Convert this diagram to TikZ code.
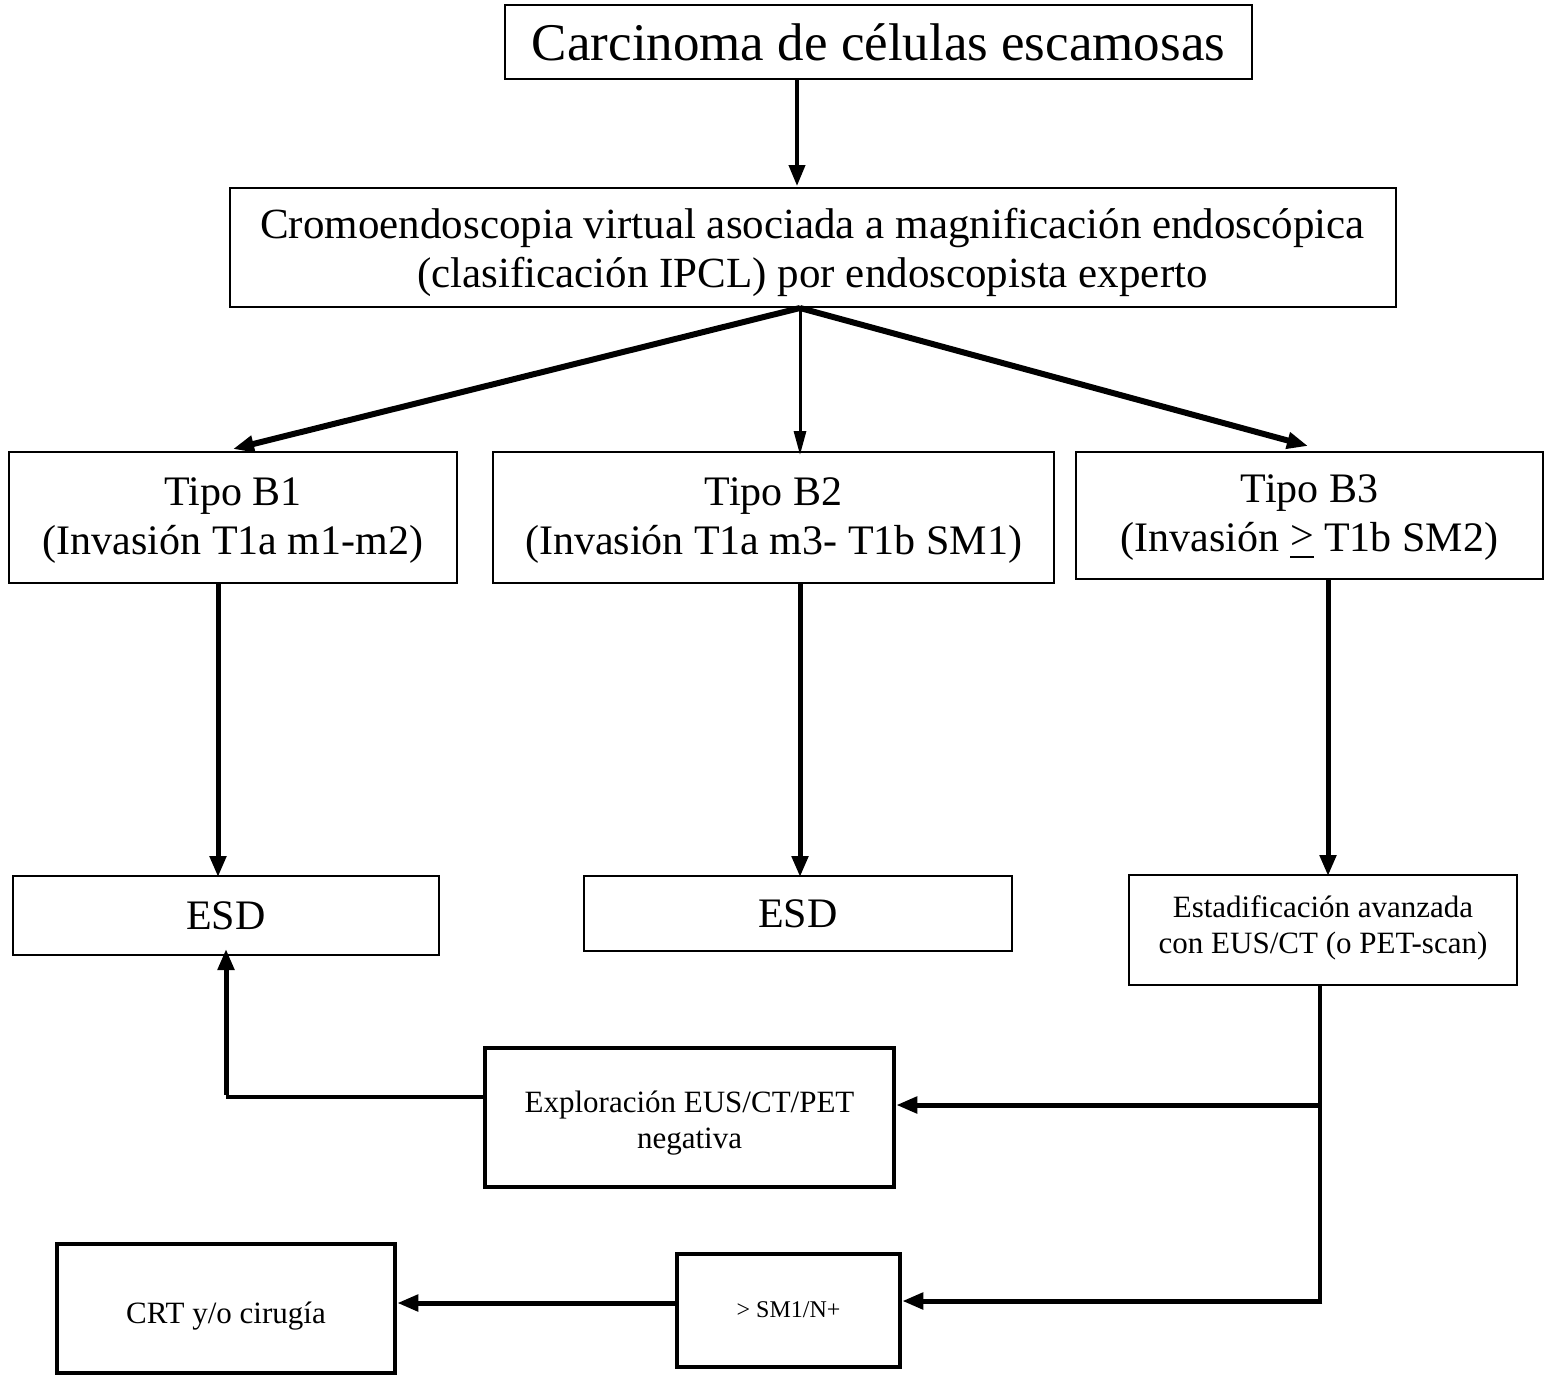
\documentclass[tikz,border=0pt]{standalone}
\usepackage{fontspec}
\setmainfont{Liberation Serif}
\usetikzlibrary{arrows.meta}
\newcommand{\fs}[1]{\fontsize{#1}{1.16\dimexpr #1pt\relax}\selectfont}
\newcommand{\dn}[2]{\raisebox{-#1}[\height][\depth]{\begin{tabular}{@{}c@{}}#2\end{tabular}}}
\newcommand{\gebar}{\setbox0\hbox{>}\rlap{\raisebox{0.03em}{>}}\rule[-0.17em]{\wd0}{0.05em}}
\begin{document}
\begin{tikzpicture}[x=1pt,y=-1pt,
  box/.style={draw, line width=2pt, inner sep=0pt, align=center, anchor=center},
  thickbox/.style={draw, line width=4.5pt, inner sep=0pt, align=center, anchor=center},
  arr/.style={line width=#1, -{Triangle[length=21pt,width=16pt]}},
  arr/.default=4.5pt,
  ln/.style={line width=4.5pt}
]
\useasboundingbox (0,0) rectangle (1544,1378);
\fill[white] (0,0) rectangle (1544,1378);

% nodes
\node[box, minimum width=747pt, minimum height=74pt, font=\fs{53}] (top) at (878.5,42) {Carcinoma de células escamosas};
\node[box, minimum width=1166pt, minimum height=119pt, font=\fs{43}] (crom) at (812.5,247.5)
  {\dn{5.5pt}{Cromoendoscopia virtual asociada a magnificación endoscópica\\(clasificación IPCL) por endoscopista experto}};
\node[box, minimum width=448pt, minimum height=131pt, font=\fs{42}] (b1) at (233,517.5) {\dn{2.5pt}{Tipo B1\\(Invasión T1a m1-m2)}};
\node[box, minimum width=561pt, minimum height=131pt, font=\fs{42}] (b2) at (773.5,517.5) {\dn{2.5pt}{Tipo B2\\(Invasión T1a m3- T1b SM1)}};
\node[box, minimum width=467pt, minimum height=127pt, font=\fs{42}] (b3) at (1309.5,515.5) {\dn{1.5pt}{Tipo B3\\(Invasión \gebar\ T1b SM2)}};
\node[box, minimum width=426pt, minimum height=79pt, font=\fs{42}] (esd1) at (226,915.5) {ESD};
\node[box, minimum width=428pt, minimum height=75pt, font=\fs{42}] (esd2) at (798,913.5) {ESD};
\node[box, minimum width=388pt, minimum height=110pt, font=\fs{31}] (est) at (1323,930) {\dn{-1.5pt}{Estadificación avanzada\\con EUS/CT (o PET-scan)}};
\node[thickbox, minimum width=409pt, minimum height=139pt, font=\fs{31}] (exp) at (689.5,1117.5) {\dn{6pt}{Exploración EUS/CT/PET\\negativa}};
\node[thickbox, minimum width=223pt, minimum height=113pt, font=\fs{24}] (sm) at (788.5,1310.5) {\dn{1pt}{> SM1/N+}};
\node[thickbox, minimum width=338pt, minimum height=129pt, font=\fs{31}] (crt) at (226,1308.5) {\dn{8pt}{CRT y/o cirugía}};

% helper coordinates
\coordinate (xa) at (797,0);
\coordinate (xm) at (800,0);
\coordinate (t1) at (233,449);
\coordinate (t3) at (1308,446);
\coordinate (x1) at (218,0);
\coordinate (x2) at (800,0);
\coordinate (x3) at (1328,0);
\coordinate (xe) at (1320,0);
\coordinate (y1) at (0,1105);
\coordinate (y2) at (0,1301);
\coordinate (corner) at (226,1097);
\coordinate (ys) at (0,1303);

% connectors
\draw[arr=4pt] (top.south -| xa) -- ([yshift=1pt]crom.north -| xa);
\draw[arr=6pt] (crom.south -| xm) -- (t1);
\draw[arr=3pt, -{Triangle[length=24pt,width=12pt]}] (crom.south -| xm) -- ([yshift=-4pt]b2.north -| xm);
\draw[arr=6pt] (crom.south -| xm) -- (t3);
\draw[arr=5pt] (b1.south -| x1) -- ([yshift=-2pt]esd1.north -| x1);
\draw[arr=5pt] (b2.south -| x2) -- ([yshift=-2pt]esd2.north -| x2);
\draw[arr=5pt] (b3.south -| x3) -- ([yshift=-2pt]est.north -| x3);
\draw[ln] (est.south -| xe) -- (xe |- y2);
\draw[arr=5pt] (xe |- y1) -- (exp.east |- y1);
\draw[arr=5pt] ([xshift=2.25pt]xe |- y2) -- (sm.east |- y2);
\draw[ln] (exp.west |- corner) -- (corner);
\draw[arr=5pt] ([yshift=2.5pt]corner) -- ([yshift=7pt]esd1.south -| corner);
\draw[arr=5pt] (sm.west |- ys) -- (crt.east |- ys);
\end{tikzpicture}
\end{document}
